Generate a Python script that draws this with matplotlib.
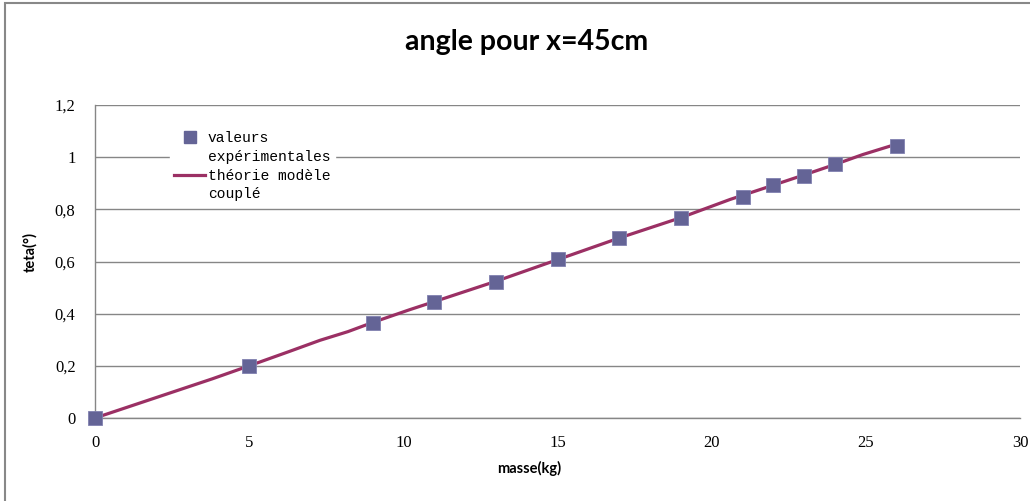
import matplotlib
matplotlib.use('Agg')
from matplotlib import pyplot as plt
from matplotlib.lines import Line2D
from matplotlib.patches import Rectangle
from matplotlib.ticker import FuncFormatter

# measured values (masse in kg, angle teta)
masse_exp = [0, 5, 9, 11, 13, 15, 17, 19, 21, 22, 23, 24, 26]
teta_exp = [0.0, 0.200, 0.365, 0.446, 0.523, 0.608, 0.692, 0.765, 0.846, 0.892, 0.927, 0.973, 1.042]

# coupled model curve
masse_th = [0, 1.9, 3.8, 5, 6.3, 7.3, 8.2, 9, 10.2, 11, 13, 15, 17, 19, 20.6, 21.6, 23, 24, 24.9, 26.05]
teta_th = [0.0, 0.075, 0.150, 0.200, 0.255, 0.298, 0.331, 0.366, 0.415, 0.446, 0.524, 0.607, 0.690, 0.768,
           0.838, 0.877, 0.932, 0.972, 1.010, 1.052]

x_ticks = [0, 5, 10, 15, 20, 25, 30]
y_ticks = [0, 0.2, 0.4, 0.6, 0.8, 1.0, 1.2]

marker_color = '#646496'
line_color = '#9b3064'
grid_color = '#868686'
tick_font = 'Liberation Serif'
legend_font = 'Liberation Mono'
label_font = 'Lato'

fig = plt.figure(figsize=(10.30, 5.01), dpi=100)
ax = fig.add_axes([95 / 1030, 1 - 418 / 501, 925 / 1030, 313 / 501])

ax.plot(masse_th, teta_th, color=line_color, lw=2.3, zorder=3, solid_joinstyle='round')
ax.plot(masse_exp, teta_exp, ls='none', marker='s', ms=10, color=marker_color,
        markeredgecolor='#8080b0', markeredgewidth=0.6, zorder=4, clip_on=False)

ax.set_xlim(0, 30)
ax.set_ylim(0, 1.2)
ax.set_xticks(x_ticks)
ax.set_yticks(y_ticks)
ax.yaxis.set_major_formatter(FuncFormatter(lambda v, p: ('%g' % v).replace('.', ',')))
ax.tick_params(length=0, labelsize=12)
ax.tick_params(axis='x', pad=12)
ax.tick_params(axis='y', pad=14)
for lab in ax.get_xticklabels() + ax.get_yticklabels():
    lab.set_fontfamily(tick_font)

ax.grid(axis='y', color=grid_color, lw=1)
ax.set_axisbelow(True)
for side in ['top', 'right']:
    ax.spines[side].set_visible(False)
for side in ['left', 'bottom']:
    ax.spines[side].set_color(grid_color)
    ax.spines[side].set_linewidth(1)

ax.set_xlabel('masse(kg)', fontfamily=label_font, fontweight='bold', fontsize=10.5, labelpad=2)
ax.xaxis.set_label_coords((529 - 95) / 925, -(461 - 418) / 313)
ax.set_ylabel('teta(°)', fontfamily=label_font, fontweight='bold', fontsize=10.5)
ax.yaxis.set_label_coords(-(95 - 37) / 925, (418 - 252) / 313)

# one legend row per text line, so the handles sit on the first line
blank = Line2D([], [], ls='none')
handles = [
    Line2D([], [], ls='none', marker='s', ms=8, color=marker_color),
    blank,
    Line2D([], [], color=line_color, lw=2.3),
    blank,
]
labels = ['valeurs', 'expérimentales', 'théorie modèle', 'couplé']
leg = ax.legend(handles, labels, loc='upper left', bbox_to_anchor=(75 / 925, (418 - 127) / 313),
                borderaxespad=0, prop={'family': legend_font, 'size': 10.5}, frameon=True,
                fancybox=False, handlelength=2.1, handletextpad=0.2, labelspacing=0.32,
                borderpad=0.3)
leg.get_frame().set_edgecolor('white')
leg.get_frame().set_facecolor('white')
leg.get_frame().set_alpha(1)

fig.text(527 / 1030, 1 - 42 / 501, 'angle pour x=45cm', ha='center', va='center',
         fontfamily=label_font, fontweight='bold', fontsize=20.5)

# outer chart border
fig.patches.append(Rectangle((5 / 1030, -0.1), 1.2, 1 - 3 / 501 + 0.1, transform=fig.transFigure,
                             fill=False, edgecolor='#888888', lw=1.5))

fig.savefig('out.png', dpi=100)
